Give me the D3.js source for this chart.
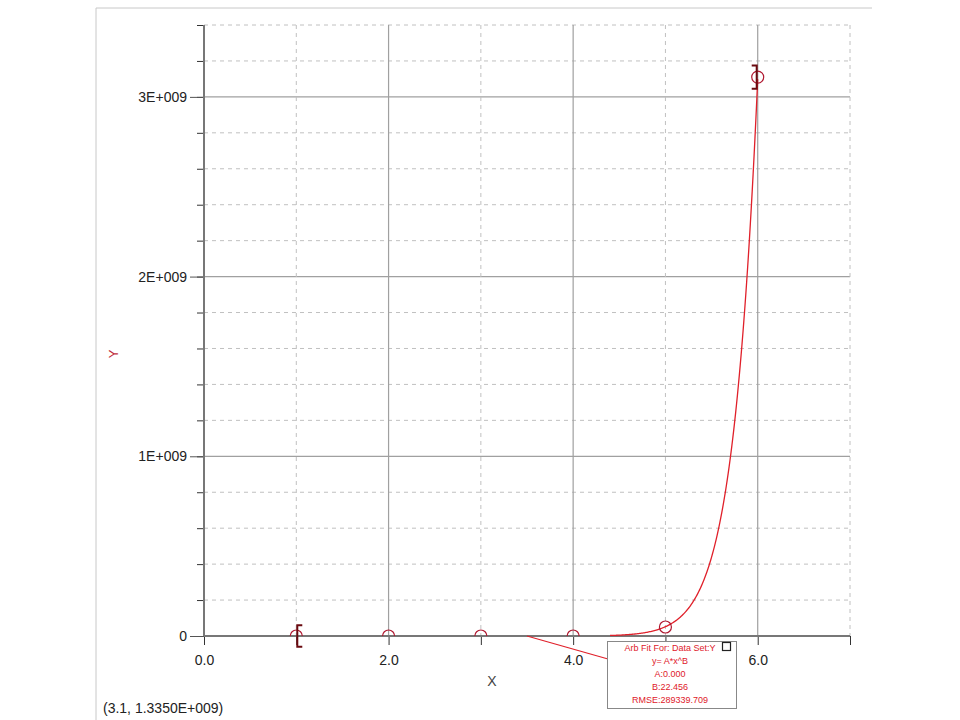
<!DOCTYPE html>
<html><head><meta charset="utf-8">
<script src="https://cdn.jsdelivr.net/npm/d3@7"></script>
<style>
html,body{margin:0;padding:0;background:#fff;}
svg{display:block;font-family:"Liberation Sans",Arial,sans-serif;}
</style></head>
<body>
<svg id="chart" width="960" height="720"></svg>
<script>
// ---- data ----
const xValues = [1, 2, 3, 4, 5, 6];
const yValues = [0, 0, 0, 0, 0.05e9, 3.11e9];
const yErrors = [0.06e9, 0, 0, 0, 0, 0.065e9];
const xTickLabels = ["0.0", "2.0", "4.0", "6.0"];
const xTickLabelValues = [0, 2, 4, 6];
const yTickLabels = ["0", "1E+009", "2E+009", "3E+009"];
const yTickLabelValues = [0, 1e9, 2e9, 3e9];
const fitA = 1.04e-8;
const fitB = 22.456;
const fitXStart = 4.4;
const fitXEnd = 6;
const fitLines = ["Arb Fit For:  Data Set:Y", "y= A*x^B", "A:0.000", "B:22.456", "RMSE:289339.709"];
const cursorText = "(3.1, 1.3350E+009)";

// ---- layout ----
const svg = d3.select("#chart");
const x = d3.scaleLinear().domain([0, 7]).range([204, 850]);
const y = d3.scaleLinear().domain([0, 3.4e9]).range([636, 25]);

// outer frame
svg.append("line").attr("x1",96).attr("x2",96).attr("y1",8).attr("y2",720).attr("stroke","#c8c8c8");
svg.append("line").attr("x1",96).attr("x2",872).attr("y1",8).attr("y2",8).attr("stroke","#c8c8c8");

// grid
const minorY = d3.range(0, 3.41e9, 0.2e9);
const gy = svg.append("g");
minorY.forEach(v => {
  const major = Math.abs(v/1e9 - Math.round(v/1e9)) < 1e-6;
  if (v === 0) return;
  gy.append("line").attr("x1", x(0)).attr("x2", x(7)).attr("y1", y(v)).attr("y2", y(v))
    .attr("stroke", major ? "#a0a0a0" : "#c0c0c0")
    .attr("stroke-width", major ? 1.2 : 1)
    .attr("stroke-dasharray", major ? null : "4,4");
});
const gx = svg.append("g");
d3.range(1, 8).forEach(v => {
  const major = v % 2 === 0;
  gx.append("line").attr("x1", x(v)).attr("x2", x(v)).attr("y1", y(3.4e9)).attr("y2", y(0))
    .attr("stroke", major ? "#a0a0a0" : "#c0c0c0")
    .attr("stroke-width", major ? 1.2 : 1)
    .attr("stroke-dasharray", major ? null : "4,4");
});

// axes
const yAxis = d3.axisLeft(y).tickValues(minorY).tickSize(7).tickFormat("");
svg.append("g").attr("transform", `translate(${x(0)},0)`).call(yAxis)
  .call(g => g.select(".domain").remove())
  .call(g => g.selectAll(".tick line").attr("stroke", "#333"));
const yAxisMajor = d3.axisLeft(y).tickValues(yTickLabelValues).tickSize(14).tickPadding(3)
  .tickFormat((d, i) => yTickLabels[i]);
svg.append("g").attr("transform", `translate(${x(0)},0)`).call(yAxisMajor)
  .call(g => g.select(".domain").remove())
  .call(g => g.selectAll(".tick line").attr("stroke", "#555"))
  .call(g => g.selectAll(".tick text").attr("font-size", 14).attr("fill", "#222")
    .attr("font-family", "Liberation Sans, Arial, sans-serif"));

const xAxis = d3.axisBottom(x).tickValues(d3.range(0, 8)).tickSize(9).tickFormat("");
svg.append("g").attr("transform", `translate(0,${y(0)})`).call(xAxis)
  .call(g => g.select(".domain").remove())
  .call(g => g.selectAll(".tick line").attr("stroke", "#333"));
const xAxisLab = d3.axisBottom(x).tickValues(xTickLabelValues).tickSize(0).tickPadding(19)
  .tickFormat((d, i) => xTickLabels[i]);
svg.append("g").attr("transform", `translate(0,${y(0)})`).call(xAxisLab)
  .call(g => g.select(".domain").remove())
  .call(g => g.selectAll(".tick text").attr("font-size", 14).attr("fill", "#222")
    .attr("font-family", "Liberation Sans, Arial, sans-serif"));

// axis lines
svg.append("line").attr("x1", x(0)).attr("x2", x(0)).attr("y1", y(3.4e9)).attr("y2", y(0))
  .attr("stroke", "#777").attr("stroke-width", 2);
svg.append("line").attr("x1", x(0)).attr("x2", x(7)).attr("y1", y(0)).attr("y2", y(0))
  .attr("stroke", "#777").attr("stroke-width", 2);

// axis titles
svg.append("text").attr("transform", `translate(118,${y(1.57e9)}) rotate(-90)`)
  .attr("text-anchor", "middle").attr("font-size", 13).attr("fill", "#c03040").text("Y");
svg.append("text").attr("x", 492).attr("y", 686).attr("text-anchor", "middle")
  .attr("font-size", 14).attr("fill", "#444").text("X");

// clip for plot area
svg.append("clipPath").attr("id", "plotclip").append("rect")
  .attr("x", x(0)).attr("y", y(3.4e9)).attr("width", x(7) - x(0)).attr("height", y(0) - y(3.4e9));

// fit curve
const fitXs = d3.range(fitXStart, fitXEnd + 1e-9, 0.01);
const line = d3.line().x(d => x(d)).y(d => y(fitA * Math.pow(d, fitB)));
svg.append("path").datum(fitXs).attr("d", line).attr("fill", "none")
  .attr("stroke", "#e0202a").attr("stroke-width", 1.3).attr("clip-path", "url(#plotclip)");

// points
svg.append("g").attr("clip-path", "url(#plotclip)").selectAll("circle").data(xValues).join("circle")
  .attr("cx", d => x(d)).attr("cy", (d, i) => y(yValues[i])).attr("r", 6)
  .attr("fill", "none").attr("stroke", "#b01830").attr("stroke-width", 1.2);

// error bars (half caps, as drawn in the reference)
const eb = svg.append("g").attr("stroke", "#6a0a10").attr("stroke-width", 2).attr("fill", "none");
xValues.forEach((xv, i) => {
  const e = yErrors[i];
  if (!e) return;
  const dir = i === 0 ? 1 : -1;
  const cx = x(xv) + (i === 0 ? 1 : -1);
  const y1 = y(yValues[i] + e), y2 = y(yValues[i] - e);
  eb.append("path").attr("d", `M${cx + dir * 5},${y1}H${cx}V${y2}H${cx + dir * 5}`);
});

// annotation leader + box
svg.append("line").attr("x1", x(3.5)).attr("y1", y(0)).attr("x2", 608).attr("y2", 659)
  .attr("stroke", "#e0202a").attr("stroke-width", 1.2);
const box = svg.append("g");
box.append("rect").attr("x", 607.5).attr("y", 641.5).attr("width", 129).attr("height", 67)
  .attr("fill", "#fff").attr("stroke", "#888");
box.append("rect").attr("x", 722.5).attr("y", 642.5).attr("width", 8).attr("height", 8)
  .attr("fill", "#fff").attr("stroke", "#222").attr("stroke-width", 1.2);
box.selectAll("text.fit").data(fitLines).join("text").attr("class", "fit")
  .attr("x", 670).attr("y", (d, i) => 651 + i * 13).attr("text-anchor", "middle")
  .attr("font-size", 9).attr("fill", "#e0202a").text(d => d);

// cursor readout
svg.append("text").attr("x", 103).attr("y", 713).attr("font-size", 14).attr("fill", "#222").text(cursorText);
</script>
</body></html>
